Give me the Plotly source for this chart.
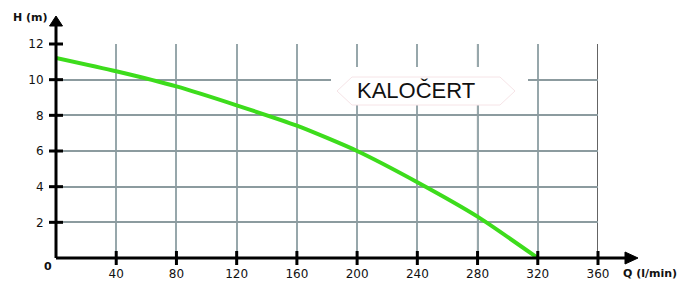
import plotly.graph_objects as go

# ---- data ----
flow_q = [0, 40, 80, 120, 160, 200, 240, 280, 320]          # l/min
head_h = [11.22, 10.47, 9.62, 8.56, 7.42, 6.0, 4.25, 2.32, 0.0]  # m
x_ticks = [40, 80, 120, 160, 200, 240, 280, 320, 360]
y_ticks = [2, 4, 6, 8, 10, 12]
dark_grid_x = [160, 200, 280, 320, 360]
x_title = "Q (l/min)"
y_title = "H (m)"
watermark = "KALOČERT"

W, H = 679, 281
ML, MR, MT, MB = 56, 81, 44, 23
PW, PH = W - ML - MR, H - MT - MB

def px(xp):  # pixel x -> paper
    return (xp - ML) / PW

def py(yp):  # pixel y -> paper
    return (H - MB - yp) / PH

fig = go.Figure()

# pump curve
fig.add_trace(go.Scatter(
    x=flow_q, y=head_h, mode="lines",
    line=dict(color="#3ddc1c", width=4, shape="spline", smoothing=0.6),
    hoverinfo="skip", showlegend=False,
))

# tick crosses on axes
fig.add_trace(go.Scatter(
    x=x_ticks, y=[0] * len(x_ticks), mode="markers", cliponaxis=False,
    marker=dict(symbol="line-ns", size=10, line=dict(width=3, color="black")),
    hoverinfo="skip", showlegend=False,
))
fig.add_trace(go.Scatter(
    x=[0] * len(y_ticks), y=y_ticks, mode="markers", cliponaxis=False,
    marker=dict(symbol="line-ew", size=10, line=dict(width=3, color="black")),
    hoverinfo="skip", showlegend=False,
))

shapes = []
for xv in dark_grid_x:
    col = "#111111" if xv in (160, 200, 360) else "#4a4f52"
    shapes.append(dict(type="line", xref="x", yref="paper", x0=xv, x1=xv, y0=0, y1=1,
                       line=dict(color=col, width=1.3), layer="below"))
shapes.append(dict(type="line", xref="paper", yref="paper", x0=0, x1=px(628), y0=0, y1=0,
                   line=dict(color="black", width=3)))
shapes.append(dict(type="line", xref="paper", yref="paper", x0=0, x1=0, y0=0, y1=py(24),
                   line=dict(color="black", width=3)))
shapes.append(dict(type="path", xref="paper", yref="paper",
                   path=f"M {px(625)} {py(252)} L {px(638)} {py(258)} L {px(625)} {py(264)} Z",
                   fillcolor="black", line=dict(color="black", width=1)))
shapes.append(dict(type="path", xref="paper", yref="paper",
                   path=f"M {px(49.5)} {py(26)} L {px(56)} {py(16)} L {px(62.5)} {py(26)} Z",
                   fillcolor="black", line=dict(color="black", width=1)))
shapes.append(dict(type="rect", xref="paper", yref="paper",
                   x0=px(331), x1=px(528), y0=py(105), y1=py(67),
                   fillcolor="white", line=dict(width=0), layer="above"))
shapes.append(dict(type="path", xref="paper", yref="paper",
                   path=(f"M {px(337)} {py(91)} L {px(352)} {py(77)} L {px(500)} {py(77)} "
                         f"L {px(515)} {py(91)} L {px(500)} {py(105)} L {px(352)} {py(105)} Z"),
                   fillcolor="rgba(0,0,0,0)", line=dict(color="#f6e4e7", width=1), layer="above"))

annotations = [
    dict(text=watermark, xref="paper", yref="paper", x=px(416), y=py(90),
         showarrow=False, font=dict(family="Liberation Sans, Arial", size=22, color="#111111"),
         xanchor="center", yanchor="middle"),
    dict(text=f"<b>{y_title}</b>", xref="paper", yref="paper", x=px(11), y=py(17.5),
         showarrow=False, font=dict(family="DejaVu Sans", size=11, color="#111111"),
         xanchor="left", yanchor="middle"),
    dict(text=f"<b>{x_title}</b>", xref="paper", yref="paper", x=px(621), y=py(273.5),
         showarrow=False, font=dict(family="DejaVu Sans", size=11, color="#111111"),
         xanchor="left", yanchor="middle"),
    dict(text="<b>0</b>", xref="paper", yref="paper", x=px(48), y=py(266),
         showarrow=False, font=dict(family="DejaVu Sans", size=11, color="#111111"),
         xanchor="center", yanchor="middle"),
]

fig.update_layout(
    width=W, height=H, autosize=False,
    margin=dict(l=ML, r=MR, t=MT, b=MB, pad=0, autoexpand=False),
    paper_bgcolor="white", plot_bgcolor="white",
    shapes=shapes, annotations=annotations,
    xaxis=dict(range=[0, 360], tickvals=x_ticks, ticktext=[str(v) for v in x_ticks],
               showgrid=True, gridcolor="#97a7ab", gridwidth=1.5,
               showline=False, zeroline=False, automargin=False,
               ticks="outside", ticklen=5, tickcolor="rgba(0,0,0,0)",
               tickfont=dict(family="DejaVu Sans", size=12, color="#111111"),
               fixedrange=True),
    yaxis=dict(range=[0, 12], tickvals=y_ticks, ticktext=[str(v) for v in y_ticks],
               showgrid=True, gridcolor="#8c9b9f", gridwidth=1.5,
               showline=False, zeroline=False, automargin=False,
               ticks="outside", ticklen=9, tickcolor="rgba(0,0,0,0)",
               tickfont=dict(family="DejaVu Sans", size=12, color="#111111"),
               fixedrange=True),
    showlegend=False,
)

fig.write_html(
    "out.html",
    config={"displayModeBar": False, "responsive": False},
    post_script="document.body.style.margin='0';document.body.style.overflow='hidden';",
)
